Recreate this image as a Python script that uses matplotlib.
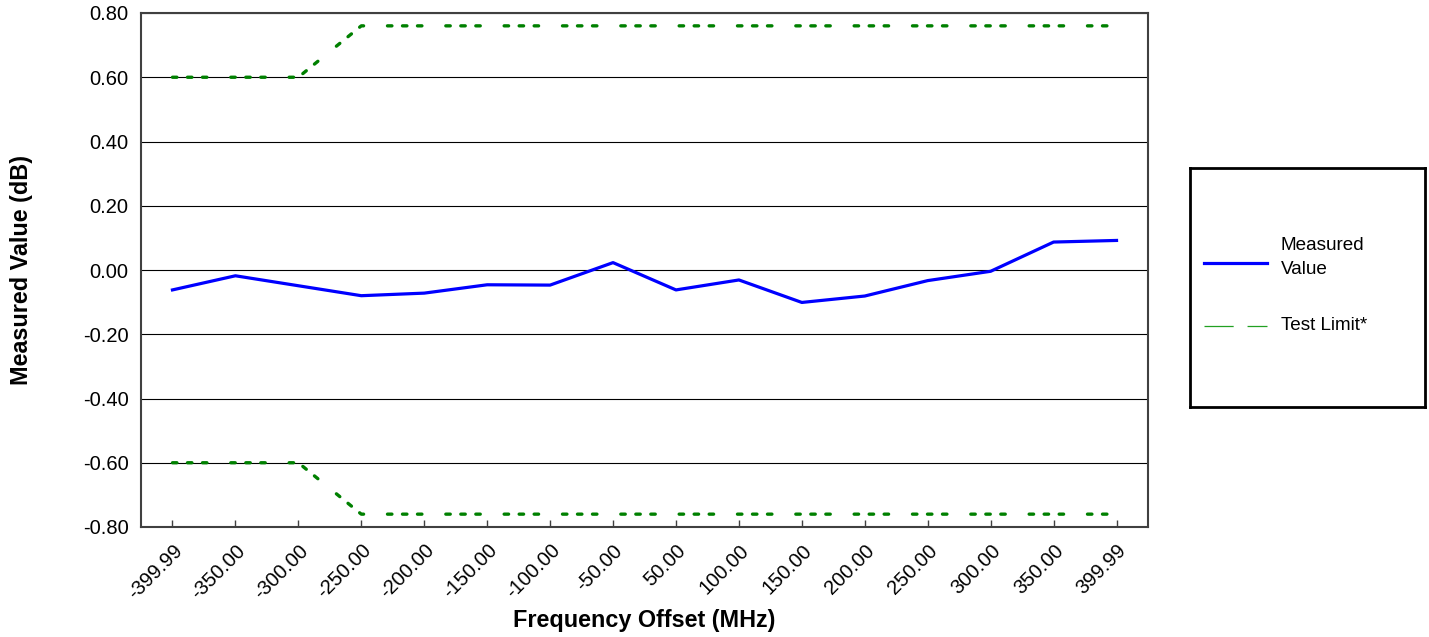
import matplotlib
matplotlib.use("Agg")
import matplotlib.pyplot as plt
from matplotlib.lines import Line2D

plt.rcParams['font.family'] = ['Liberation Sans', 'DejaVu Sans']
plt.rcParams['lines.scale_dashes'] = False

categories = ["-399.99", "-350.00", "-300.00", "-250.00", "-200.00", "-150.00",
              "-100.00", "-50.00", "50.00", "100.00", "150.00", "200.00",
              "250.00", "300.00", "350.00", "399.99"]
measured = [-0.062, -0.018, -0.049, -0.080, -0.072, -0.046, -0.047, 0.023,
            -0.062, -0.031, -0.101, -0.081, -0.033, -0.004, 0.087, 0.092]
upper_limit = [0.60, 0.60, 0.60, 0.76, 0.76, 0.76, 0.76, 0.76,
               0.76, 0.76, 0.76, 0.76, 0.76, 0.76, 0.76, 0.76]
lower_limit = [-0.60, -0.60, -0.60, -0.76, -0.76, -0.76, -0.76, -0.76,
               -0.76, -0.76, -0.76, -0.76, -0.76, -0.76, -0.76, -0.76]
yticks = [-0.8, -0.6, -0.4, -0.2, 0.0, 0.2, 0.4, 0.6, 0.8]

W, H = 1429, 637
fig = plt.figure(figsize=(W / 100, H / 100), dpi=100)
ax = fig.add_axes([141 / W, (H - 527) / H, (1148 - 141) / W, 514 / H])

x = list(range(len(categories)))
limit_dash = (0, (3.2, 7.6, 3.2, 7.6, 3.2, 17.2))
for lim in (upper_limit, lower_limit):
    ax.plot(x, lim, color='#008000', linewidth=2.4, linestyle=limit_dash,
            dash_capstyle='round', zorder=3)
ax.plot(x, measured, color='#0000ff', linewidth=2.3, zorder=4)

ax.set_xlim(-0.5, len(categories) - 0.5)
ax.set_ylim(-0.8, 0.8)
ax.set_yticks(yticks)
ax.set_yticklabels([f"{v:.2f}" for v in yticks], fontsize=14.5)
ax.set_xticks(x)
ax.set_xticklabels(categories, fontsize=14.5, rotation=45, ha='right',
                   va='top', rotation_mode='anchor')
ax.tick_params(axis='y', length=0, pad=9)
ax.tick_params(axis='x', direction='in', length=5, width=1, color='#404040', pad=10)
ax.grid(axis='y', color='black', linewidth=0.8, zorder=1)
ax.set_axisbelow(True)
for side in ('left', 'bottom', 'top', 'right'):
    ax.spines[side].set_color('#404040')
    ax.spines[side].set_linewidth(1.5)

ax.set_xlabel("Frequency Offset (MHz)", fontsize=16.8, fontweight='bold')
ax.set_ylabel("Measured Value (dB)", fontsize=16.8, fontweight='bold')
ax.xaxis.set_label_coords(0.5, -0.181)
ax.yaxis.set_label_coords((22 - 141) / 1007, 0.5)
ax.xaxis.label.set_va('center')
ax.yaxis.label.set_va('center')

# legend box
lax = fig.add_axes([1190 / W, (H - 407) / H, 235 / W, 239 / H])
lax.set_xlim(0, 1)
lax.set_ylim(0, 1)
lax.set_xticks([])
lax.set_yticks([])
for side in lax.spines.values():
    side.set_color('black')
    side.set_linewidth(2)
lax.add_line(Line2D([0.06, 0.328], [0.6025, 0.6025], color='#0000ff', linewidth=2.3))
lax.add_line(Line2D([0.06, 0.328], [0.34, 0.34], color='#22a022', linewidth=0.9,
                    linestyle=(0, (21, 10))))
lax.text(0.387, 0.626, "Measured\nValue", fontsize=13.6, va='center', ha='left',
         linespacing=1.5)
lax.text(0.387, 0.343, "Test Limit*", fontsize=13.6, va='center', ha='left')

fig.savefig("out.png", dpi=100)
